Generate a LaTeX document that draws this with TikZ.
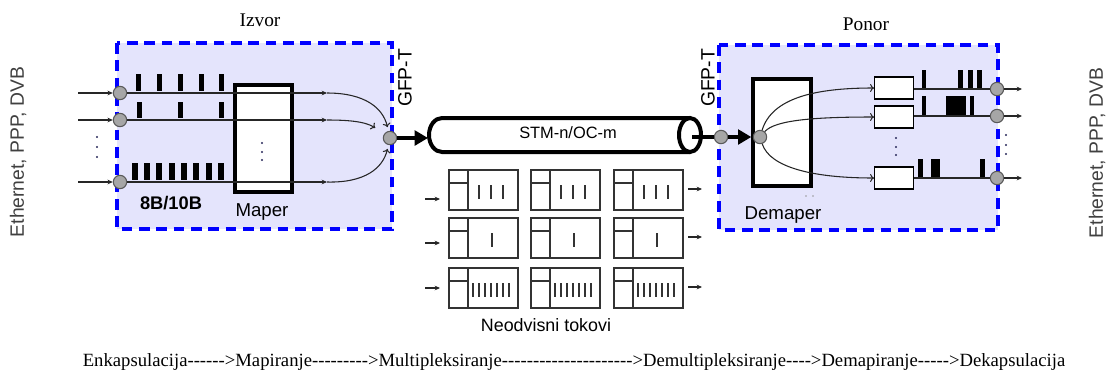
\documentclass[tikz,border=0pt]{standalone}
\usepackage{fontspec}
\setmainfont{Liberation Sans}
\newfontfamily\timesfont[Ligatures=TeXOff]{Liberation Serif}
\usetikzlibrary{arrows.meta}
\definecolor{boxfill}{RGB}{228,228,252}
\definecolor{dotcol}{RGB}{40,40,90}

\begin{document}
\begin{tikzpicture}[x=0.75pt,y=-0.75pt,
    endbox/.style={draw=blue,line width=3pt,dash pattern=on 8pt off 5pt,fill=boxfill},
    port/.style={circle,draw=black!65,fill=black!35,line width=0.8pt,minimum size=10pt,inner sep=0pt},
    mapbox/.style={draw,line width=3pt,fill=white,minimum width=43pt,minimum height=80pt,inner sep=0pt},
    buf/.style={draw,line width=0.9pt,fill=white,minimum width=29pt,minimum height=16.5pt,inner sep=0pt},
    wire/.style={line width=0.8pt,black!85},
    smalltip/.style={wire,-{Stealth[length=4pt,width=3.5pt]}},
    curvearrow/.style={wire,-{To[length=3pt,width=6pt]}},
    fat/.style={line width=3.5pt,-{Triangle[length=10pt,width=11pt]}},
    tubeline/.style={draw,line width=3pt},
    frm/.style={line width=0.9pt,black!80},
    lbl/.style={font=\fontsize{14}{16}\selectfont},
    sidelbl/.style={rotate=90,text=black!75,font=\fontsize{14.5}{16}\selectfont}]
\useasboundingbox (0,0) rectangle (1106,372);

\draw[endbox] (117,43) rectangle (392,229);
\draw[endbox] (719,45) rectangle (998,230);

\node[sidelbl] (ethL) at (18,152) {Ethernet, PPP, DVB};
\node[sidelbl] (ethR) at (1097,153) {Ethernet, PPP, DVB};
\node[font=\timesfont\fontsize{14.5}{16}\selectfont] (izvor) at (260,20) {Izvor};
\node[font=\timesfont\fontsize{14.5}{16}\selectfont] (ponor) at (866,24) {Ponor};
\node[sidelbl,text=black] (gfpLlbl) at (405,78) {GFP-T};
\node[sidelbl,text=black] (gfpRlbl) at (708,78) {GFP-T};

% izvor
\node[mapbox] (maper) at (263.5,138.5) {};
\node[lbl] (maperlbl) at (262,212) {Maper};
\node[font=\bfseries\fontsize{13.7}{16}\selectfont] (enc) at (171,203) {8B/10B};
\foreach \y in {143,152,160} \fill[dotcol] (262,\y) circle (1.2);
\foreach \y in {137,147,157} \fill[dotcol] (97,\y) circle (1.2);
\node[port] (gfpL) at (390,138) {};
\foreach \i/\y in {1/93,2/120,3/182} {
    \node[port] (in\i) at (120,\y) {};
    \coordinate (src\i) at (78,\y);
    \coordinate (mk\i) at (327,\y);
    \draw[smalltip] (src\i) -- (in\i);
    \draw[smalltip] (in\i) -- (mk\i);
}
\foreach \x in {138,159,180,201,221} \fill (\x-2.5,74) rectangle (\x+2.5,91);
\foreach \x in {139,180,221} \fill (\x-2.5,102) rectangle (\x+2.5,118);
\foreach \x in {135,147,159,172,184,196,209,221} \fill (\x-2.6,163) rectangle (\x+2.6,180);
\draw[curvearrow,shorten >=3pt] (mk1) .. controls (365,93) and (383,108) .. (gfpL);
\draw[curvearrow,shorten >=8pt] (mk2) .. controls (345,120) and (365,121) .. (gfpL);
\draw[curvearrow,shorten >=3pt] (mk3) .. controls (365,183) and (383,168) .. (gfpL);

% tube
\coordinate (tubeL) at (428,138);
\coordinate (tubeR) at (692,137);
\draw[tubeline,fill=white] (690,118) -- (442,118) arc[start angle=270,end angle=90,x radius=13,y radius=17] -- (690,152);
\draw[tubeline,fill=white] (690,135) ellipse[x radius=11,y radius=17];
\node[font=\fontsize{12.3}{14}\selectfont] (stm) at (568,133) {STM-n/OC-m};
\draw[fat] (gfpL) -- (tubeL);
\node[port] (gfpR) at (721,137) {};
\draw[line width=3.5pt] (tubeR) -- (gfpR);

% frames
\foreach \fy/\tl in {170/{30,42,54},218/{43},268/{24,30,36,42,48,54,60}}
  \foreach \fx in {449,531,614} {
    \draw[frm] (\fx,\fy) rectangle (\fx+69,\fy+40);
    \draw[frm] (\fx+19,\fy) -- (\fx+19,\fy+40);
    \draw[frm] (\fx,\fy+13) -- (\fx+19,\fy+13);
    \foreach \t in \tl \draw[frm] (\fx+\t,\fy+15) -- (\fx+\t,\fy+29);
  }
\foreach \r/\ly/\ry in {1/199/189,2/243/237,3/288/287} {
    \coordinate (fa\r) at (425,\ly);
    \coordinate (fb\r) at (440,\ly);
    \coordinate (fc\r) at (688,\ry);
    \coordinate (fd\r) at (702,\ry);
    \draw[smalltip] (fa\r) -- (fb\r);
    \draw[smalltip] (fc\r) -- (fd\r);
}
\node[font=\fontsize{13.4}{16}\selectfont] (tokovi) at (546,325) {Neodvisni tokovi};

% ponor
\node[mapbox] (demaper) at (782,132.5) {};
\node[lbl] (demaperlbl) at (783,215) {Demaper};
\fill[black!40] (806,196) circle (0.8) (813,196) circle (0.8);
\draw[fat] (gfpR) -- (gfpR -| demaper.west);
\node[port] (dmx) at (760,137) {};
\foreach \i/\y in {1/88,2/117,3/178} \node[buf] (buf\i) at (894,\y) {};
\draw[curvearrow] (dmx) .. controls (772,98) and (815,88) .. (buf1.west);
\draw[curvearrow] (dmx) .. controls (775,120) and (815,117) .. (buf2.west);
\draw[curvearrow] (dmx) .. controls (770,168) and (815,178) .. (buf3.west);
\foreach \y in {138,147,155} \fill[dotcol] (896,\y) circle (1.2);
\foreach \y in {135,145,154} \fill[dotcol] (1006,\y) circle (1.2);
\fill (922,70) rectangle (926,88);
\foreach \x in {958,968,977} \fill (\x,70) rectangle (\x+4.5,88);
\fill (922,96) rectangle (926,116);
\fill (946,96) rectangle (966,116);
\fill (970,96) rectangle (974,116);
\fill (918,159) rectangle (923,178);
\fill (931,159) rectangle (940,178);
\fill (980,159) rectangle (985,178);
\foreach \i/\y in {1/89,2/116,3/178} {
    \node[port] (out\i) at (997,\y) {};
    \coordinate (dst\i) at (1022,\y);
    \draw[wire] (buf\i.east |- out\i) -- (out\i);
    \draw[smalltip] (out\i) -- (dst\i);
}

\node[font=\timesfont\fontsize{14}{16}\selectfont] (steps) at (574,362) {Enkapsulacija------>Mapiranje--------->Multipleksiranje--------------------->Demultipleksiranje---->Demapiranje----->Dekapsulacija};
\end{tikzpicture}
\end{document}
